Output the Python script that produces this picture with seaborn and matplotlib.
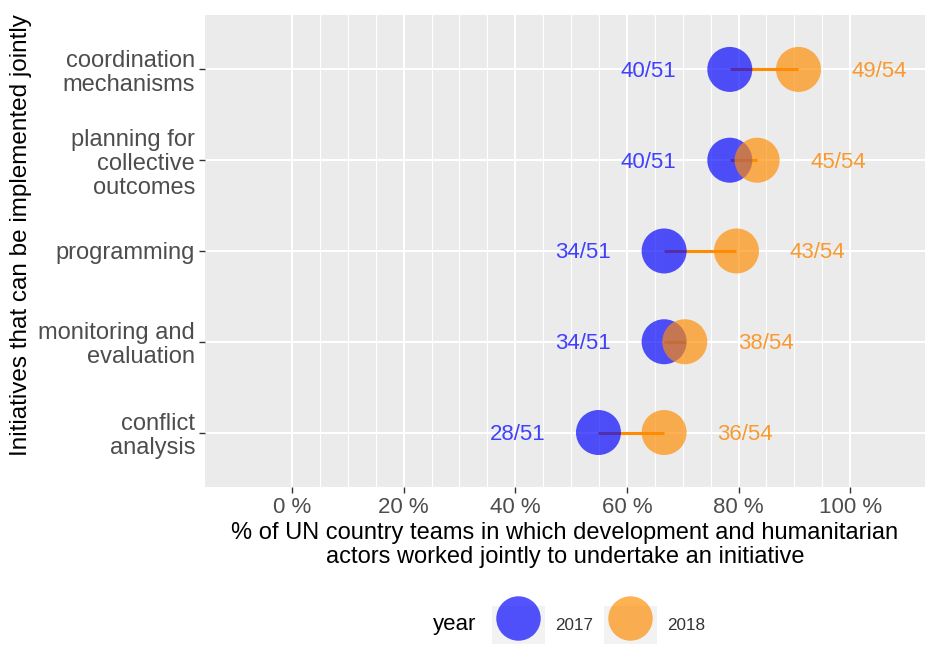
import numpy as np
import pandas as pd
import matplotlib
matplotlib.use('Agg')
import matplotlib.pyplot as plt
from matplotlib.lines import Line2D
from matplotlib.patches import Rectangle
from matplotlib.ticker import FuncFormatter
import seaborn as sns

# data (top to bottom)
initiatives = ['coordination\nmechanisms',
               'planning for\ncollective\noutcomes',
               'programming',
               'monitoring and\nevaluation',
               'conflict\nanalysis']
count_2017 = [40, 40, 34, 34, 28]
count_2018 = [49, 45, 43, 38, 36]
total_2017 = 51
total_2018 = 54
years = ['2017', '2018']

blue = '#0000FF'
orange = '#FF8C00'
palette = {'2017': blue, '2018': orange}
label_colors = {'2017': '#4040FF', '2018': '#F89A30'}

sns.set_theme(style='darkgrid', rc={
    'axes.facecolor': '#EBEBEB',
    'grid.color': 'white',
    'axes.edgecolor': 'none',
})
plt.rcParams['font.family'] = ['Liberation Sans', 'DejaVu Sans']

df = pd.concat([
    pd.DataFrame({'initiative': initiatives, 'year': '2017',
                  'count': count_2017, 'total': total_2017}),
    pd.DataFrame({'initiative': initiatives, 'year': '2018',
                  'count': count_2018, 'total': total_2018}),
], ignore_index=True)
df['pct'] = 100 * df['count'] / df['total']
df['ypos'] = df.initiative.map({name: i for i, name in enumerate(initiatives)})
wide = df.pivot(index='ypos', columns='year', values='pct')

fig, ax = plt.subplots(figsize=(9.27, 6.48), dpi=100)
fig.subplots_adjust(left=0.2211, right=0.9978, bottom=0.2485, top=0.9769)

# connecting segment from 2017 to 2018
ax.hlines(wide.index, wide['2017'], wide['2018'], color=orange, lw=2.2,
          zorder=2)
sns.scatterplot(data=df, x='pct', y='ypos', hue='year', palette=palette,
                s=1050, alpha=0.67, linewidth=0, legend=False, zorder=3,
                ax=ax)

# count labels, 2017 to the left and 2018 to the right
for row in df.itertuples():
    offset = -14.5 if row.year == '2017' else 14.5
    ax.text(row.pct + offset, row.ypos + 0.02, f'{row.count}/{row.total}',
            ha='center', va='center', fontsize=16,
            color=label_colors[row.year])

ax.set_xlim(-15.6, 113.4)
ax.set_ylim(len(initiatives) - 0.4, -0.6)
ax.set_xticks(np.arange(0, 101, 20))
ax.set_xticks(np.arange(0, 101, 5), minor=True)
ax.xaxis.set_major_formatter(FuncFormatter(lambda v, p: f'{v:.0f} %'))
ax.set_yticks(range(len(initiatives)))
ax.set_yticklabels(initiatives)

ax.grid(which='major', color='white', lw=1.5)
ax.grid(which='minor', axis='x', color='white', lw=0.8)
ax.grid(which='minor', axis='y', visible=False)
ax.tick_params(which='major', length=4, width=1, color='#333333',
               labelsize=16, labelcolor='#4D4D4D', pad=3,
               bottom=True, left=True)
ax.tick_params(axis='y', labelsize=17)
ax.tick_params(which='minor', length=0)
for lbl in ax.get_yticklabels():
    lbl.set_linespacing(1.12)

ax.set_xlabel('% of UN country teams in which development and humanitarian\n'
              'actors worked jointly to undertake an initiative',
              fontsize=17, color='black', linespacing=1.1, labelpad=3)
ax.set_ylabel('Initiatives that can be implemented jointly', fontsize=17.5,
              color='black')
ax.yaxis.set_label_coords(-0.24, 0.534)

handles = [(Rectangle((0, 0), 1, 1, fc='#F2F2F2', ec='none'),
            Line2D([], [], marker='o', ls='', ms=32, mfc=palette[y],
                   mec='none', alpha=0.67)) for y in years]
fig.legend(handles, years, loc='center', bbox_to_anchor=(0.6456, 0.0355),
           ncol=2, frameon=False, fontsize=12.3, handlelength=3.1,
           handleheight=3.1, handletextpad=0.6, columnspacing=0.65,
           borderpad=0, labelcolor='#333333')
fig.text(476 / 927, 0.0355, 'year', ha='right', va='center', fontsize=16,
         color='black')

fig.savefig('out.png', dpi=100)
